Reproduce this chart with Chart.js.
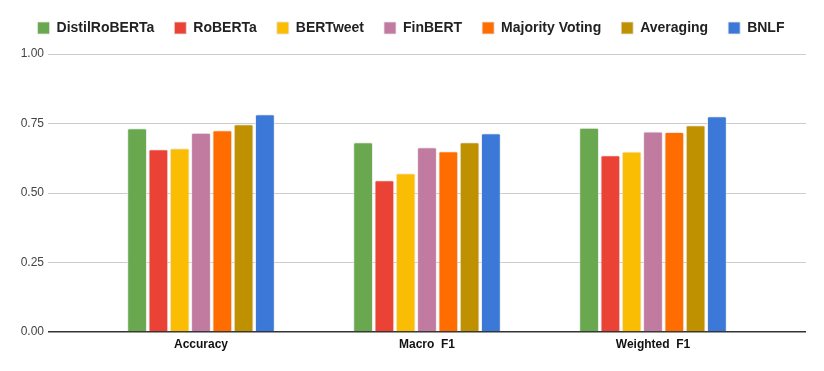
<!DOCTYPE html>
<html>
<head>
<meta charset="utf-8">
<script src="https://cdn.jsdelivr.net/npm/chart.js@4.4.1/dist/chart.umd.min.js"></script>
<style>
    html, body { margin: 0; padding: 0; background: #fff; }
    #wrap { width: 824px; height: 371px; position: relative; }
</style>
</head>
<body>
<div id="wrap"><canvas id="chart"></canvas></div>
<script>
// data
let categories = ['Accuracy', 'Macro  F1', 'Weighted  F1'];
let models = ['DistilRoBERTa', 'RoBERTa', 'BERTweet', 'FinBERT', 'Majority Voting', 'Averaging', 'BNLF'];
let colors = ['#6aa84f', '#ea4335', '#fbbc04', '#c27ba0', '#ff6d01', '#bf9000', '#3c78d8'];
let distilroberta = [0.733, 0.683, 0.735];
let roberta = [0.657, 0.546, 0.636];
let bertweet = [0.661, 0.571, 0.649];
let finbert = [0.717, 0.665, 0.721];
let majorityVoting = [0.726, 0.650, 0.719];
let averaging = [0.747, 0.683, 0.744];
let bnlf = [0.783, 0.715, 0.776];
let yTicks = [0, 0.25, 0.5, 0.75, 1];

let series = [distilroberta, roberta, bertweet, finbert, majorityVoting, averaging, bnlf];

let datasets = series.map((values, i) => {
    return {
        label: models[i],
        data: values.map((v, j) => ({x: j, y: v})),
        backgroundColor: colors[i],
        borderColor: 'rgba(230,230,230,0.8)',
        borderWidth: 1,
        borderSkipped: 'bottom',
        borderRadius: {topLeft: 2, topRight: 2},
        categoryPercentage: 0.66,
        barPercentage: 0.93
    };
});

// legend box is forced to the height used in the picture
let legendHeight = {
    id: 'legendHeight',
    beforeInit: function (chart) {
        let fit = chart.legend.fit;
        chart.legend.fit = function () {
            fit.call(this);
            this.height = 53;
        };
    }
};

Chart.defaults.font.family = 'Arial, "Liberation Sans", sans-serif';

new Chart(document.getElementById('chart'), {
    type: 'bar',
    data: {datasets: datasets},
    plugins: [legendHeight],
    options: {
        responsive: true,
        maintainAspectRatio: false,
        animation: false,
        layout: {padding: {left: 16, right: 18, top: 1, bottom: 0}},
        plugins: {
            legend: {
                position: 'top',
                align: 'center',
                labels: {
                    boxWidth: 12,
                    boxHeight: 12,
                    padding: 20,
                    color: '#222',
                    font: {size: 14, weight: 'bold'}
                }
            },
            tooltip: {enabled: false}
        },
        scales: {
            x: {
                type: 'linear',
                offset: false,
                min: -0.677,
                max: 2.677,
                afterBuildTicks: scale => {
                    scale.ticks = categories.map((c, i) => ({value: i}));
                },
                afterFit: scale => { scale.height = 39; },
                grid: {display: false, drawTicks: false},
                border: {display: false},
                ticks: {
                    padding: 5,
                    color: '#111',
                    font: {size: 12, weight: 'bold'},
                    callback: v => categories[v]
                }
            },
            y: {
                min: 0,
                max: 1,
                afterBuildTicks: scale => {
                    scale.ticks = yTicks.map(v => ({value: v}));
                },
                afterFit: scale => { scale.width = 32; },
                border: {display: false},
                grid: {
                    drawTicks: false,
                    color: c => c.tick && c.tick.value === 0 ? '#333' : '#cccccc',
                    lineWidth: c => c.tick && c.tick.value === 0 ? 1.5 : 1
                },
                ticks: {
                    padding: 4,
                    color: '#444',
                    font: {size: 12},
                    callback: v => v.toFixed(2)
                }
            }
        }
    }
});
</script>
</body>
</html>
